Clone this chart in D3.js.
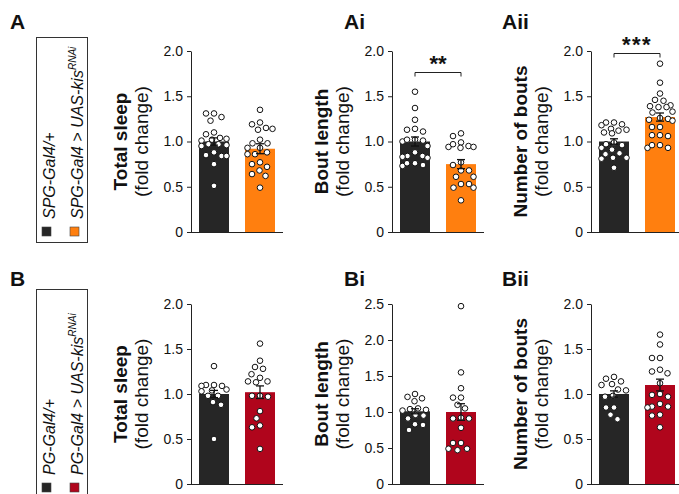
<!DOCTYPE html>
<html><head><meta charset="utf-8">
<script src="https://cdn.jsdelivr.net/npm/d3@7"></script>
<style>
body{margin:0;background:#fff}
svg{display:block}
text{font-family:"Liberation Sans",Arial,sans-serif;fill:#111}
</style>
</head><body>
<script>
// ---------- data ----------
const groupsA = ["SPG-Gal4/+", "SPG-Gal4 > UAS-kis"];
const groupsB = ["PG-Gal4/+", "PG-Gal4 > UAS-kis"];
const superscript = "RNAi";
const measures = ["Total sleep", "Bout length", "Number of bouts"];
const subtitle = "(fold change)";
const panelLabels = ["A", "Ai", "Aii", "B", "Bi", "Bii"];
const ticks2 = [0, 0.5, 1.0, 1.5, 2.0];
const ticks25 = [0, 0.5, 1.0, 1.5, 2.0, 2.5];

// Row A (SPG)
const aSleepCtrl = [1.31,1.27,1.23,1.31,1.08,1.10,1.03,1.02,1.01,1.04,0.97,0.96,0.95,0.97,0.88,0.84,0.85,0.84,0.75,0.51];
const aSleepKd   = [1.35,1.21,1.19,1.14,1.13,1.15,1.02,0.98,0.98,0.88,0.86,0.86,0.93,0.93,0.77,0.75,0.72,0.64,0.62,0.68,0.49];
const aBoutCtrl  = [1.55,1.37,1.24,1.13,1.11,1.14,1.02,1.01,1.00,1.02,0.95,0.88,0.84,0.83,0.84,0.82,0.76,0.74,0.73,0.76];
const aBoutKd    = [1.09,1.06,0.99,0.95,0.94,0.97,0.94,0.93,0.77,0.74,0.68,0.68,0.61,0.61,0.53,0.53,0.49,0.49,0.35];
const aNumCtrl   = [1.21,1.21,1.18,1.19,1.14,1.13,1.12,1.10,1.09,0.99,0.97,0.96,0.93,0.91,0.87,0.86,0.82,0.82,0.81,0.71];
const aNumKd     = [1.86,1.65,1.53,1.46,1.45,1.40,1.38,1.39,1.38,1.33,1.32,1.25,1.24,1.26,1.23,1.16,1.16,1.07,1.06,1.07,0.96,0.93,0.93,0.96];
const meansA = [[1.00, 0.92], [1.00, 0.75], [1.00, 1.27]];
const semA   = [[0.04, 0.055], [0.05, 0.05], [0.03, 0.045]];

// Row B (PG)
const bSleepCtrl = [1.31,1.09,1.10,1.10,1.09,1.05,1.04,1.03,0.98,0.98,0.91,0.88,0.50];
const bSleepKd   = [1.56,1.37,1.28,1.30,1.22,1.18,1.14,1.13,1.14,0.98,0.97,0.98,0.73,0.81,0.65,0.63,0.39];
const bBoutCtrl  = [1.25,1.19,1.15,1.21,1.04,1.03,1.02,1.05,0.96,0.91,0.95,0.83,0.82,0.75];
const bBoutKd    = [2.47,1.55,1.33,1.20,1.20,1.05,1.10,0.91,0.92,0.91,0.78,0.57,0.57,0.49,0.47,0.49];
const bNumCtrl   = [1.14,1.19,1.17,1.11,1.10,1.05,1.04,0.98,0.97,0.85,0.85,0.77,0.72];
const bNumKd     = [1.66,1.55,1.40,1.40,1.25,1.27,1.23,1.12,1.00,0.99,0.97,0.89,0.86,0.85,0.86,0.77,0.76,0.63];
const meansB = [[1.00, 1.02], [1.01, 1.00], [1.00, 1.10]];
const semB   = [[0.04, 0.07], [0.035, 0.115], [0.035, 0.065]];

// significance
const sigLabels = ["**", "***"];
const sigLevels = [1.77, 1.98];

const colCtrl = "#262626";
const colSPG = "#ff7f0f";
const colPG = "#b0051c";

// ---------- drawing ----------
const W = 679, H = 494;
const svg = d3.select("body").append("svg").attr("width", W).attr("height", H);

const colAxis = [191, 392, 591];
const rows = [
  {y0: 232, yTop: 51, letterY: 29, color: colSPG, groups: groupsA,
   data: [[aSleepCtrl, aSleepKd], [aBoutCtrl, aBoutKd], [aNumCtrl, aNumKd]],
   means: meansA, sem: semA, max: [2, 2, 2], ticks: [ticks2, ticks2, ticks2],
   legendY: 37, legendH: 205},
  {y0: 484, yTop: 304, letterY: 286, color: colPG, groups: groupsB,
   data: [[bSleepCtrl, bSleepKd], [bBoutCtrl, bBoutKd], [bNumCtrl, bNumKd]],
   means: meansB, sem: semB, max: [2, 2.5, 2], ticks: [ticks2, ticks25, ticks2],
   legendY: 289, legendH: 215}
];
const letterX = [10, 344, 502];

function swarm(values, y, cx, minD, maxOff) {
  const placed = [];
  const res = new Array(values.length);
  const order = values.map((v, i) => i).sort((a, b) => values[b] - values[a]);
  order.forEach(i => {
    const py = y(values[i]);
    let bestX = cx, bestCost = Infinity;
    const steps = Math.floor(maxOff / 0.5);
    for (let s = 0; s <= steps * 2; s++) {
      const off = (s % 2 === 0 ? 1 : -1) * Math.ceil(s / 2) * 0.5;
      let overlap = 0;
      for (const p of placed) {
        const d = Math.hypot(p.x - (cx + off), p.y - py);
        if (d < minD) overlap += (minD - d);
      }
      const cost = overlap * 100 + Math.abs(off) * 0.01;
      if (cost < bestCost) { bestCost = cost; bestX = cx + off; }
      if (overlap === 0) break;
    }
    placed.push({x: bestX, y: py});
    res[i] = {x: bestX, y: py};
  });
  return res;
}

rows.forEach((row, ri) => {
  // legend
  const lg = svg.append("g");
  lg.append("rect").attr("x", 36.5).attr("y", row.legendY + 0.5).attr("width", 51).attr("height", row.legendH)
    .attr("fill", "none").attr("stroke", "#333").attr("stroke-width", 1);
  const swY = row.legendY + row.legendH - 15 - (ri === 1 ? 6 : 0);
  const lineX = [55, 83];
  [colCtrl, row.color].forEach((c, gi) => {
    lg.append("rect").attr("x", lineX[gi] - 13).attr("y", swY).attr("width", 9).attr("height", 9)
      .attr("fill", c).attr("stroke", "#444").attr("stroke-width", 0.6);
    const t = lg.append("text")
      .attr("transform", `translate(${lineX[gi]},${swY - 8}) rotate(-90)`)
      .attr("font-size", 16).attr("font-style", "italic");
    t.append("tspan").text(row.groups[gi]);
    if (gi === 1) t.append("tspan").attr("font-size", 10).attr("dy", -7).text(superscript);
  });

  row.data.forEach((pair, ci) => {
    const ax = colAxis[ci];
    const g = svg.append("g");
    const y = d3.scaleLinear().domain([0, row.max[ci]]).range([row.y0, row.yTop]);
    const x = d3.scaleBand().domain([0, 1]).range([ax, ax + 92]).paddingInner(0.348).paddingOuter(0.174);

    // panel letter
    svg.append("text").attr("x", letterX[ci]).attr("y", row.letterY)
      .attr("font-size", 21).attr("font-weight", "bold").text(panelLabels[ri * 3 + ci]);

    // axis titles
    const mid = (row.y0 + row.yTop) / 2;
    svg.append("text").attr("transform", `translate(${ax - 64},${mid}) rotate(-90)`)
      .attr("text-anchor", "middle").attr("font-size", 19).attr("font-weight", "bold").text(measures[ci]);
    svg.append("text").attr("transform", `translate(${ax - 43},${mid}) rotate(-90)`)
      .attr("text-anchor", "middle").attr("font-size", 19).text(subtitle);

    // bars
    pair.forEach((vals, gi) => {
      const m = row.means[ci][gi];
      g.append("rect").attr("x", x(gi)).attr("width", x.bandwidth())
        .attr("y", y(m)).attr("height", y(0) - y(m))
        .attr("fill", gi === 0 ? colCtrl : row.color);
    });
    // points
    pair.forEach((vals, gi) => {
      const cx = x(gi) + x.bandwidth() / 2;
      const pts = swarm(vals, y, cx, 8, 12.5);
      g.selectAll(null).data(pts).enter().append("circle")
        .attr("cx", d => d.x).attr("cy", d => d.y).attr("r", 2.8)
        .attr("fill", "#fff").attr("stroke", "#111").attr("stroke-width", 1);
    });
    // error bars
    pair.forEach((vals, gi) => {
      const m = row.means[ci][gi], s = row.sem[ci][gi];
      const cx = x(gi) + x.bandwidth() / 2;
      g.append("line").attr("x1", cx).attr("x2", cx).attr("y1", y(m - s)).attr("y2", y(m + s))
        .attr("stroke", "#111").attr("stroke-width", 1.3);
      [m - s, m + s].forEach(v => g.append("line").attr("x1", cx - 4).attr("x2", cx + 4)
        .attr("y1", y(v)).attr("y2", y(v)).attr("stroke", "#111").attr("stroke-width", 1.3));
    });

    // axes
    const yAxis = d3.axisLeft(y).tickValues(row.ticks[ci]).tickSize(4).tickSizeOuter(0)
      .tickFormat(d => d === 0 ? "0" : d3.format(".1f")(d));
    const ya = svg.append("g").attr("transform", `translate(${ax},0)`).call(yAxis);
    ya.selectAll("text").attr("font-size", 14).attr("font-family", "Liberation Sans, Arial, sans-serif").attr("fill", "#111").attr("dx", "-1");
    ya.selectAll("path,line").attr("stroke", "#222");
    svg.append("line").attr("x1", ax).attr("x2", ax + 92).attr("y1", row.y0 + 0.5).attr("y2", row.y0 + 0.5)
      .attr("stroke", "#222").attr("stroke-width", 1);

    // significance
    if (ri === 0 && ci > 0) {
      const lv = sigLevels[ci - 1];
      const x1 = x(0) + x.bandwidth() / 2, x2 = x(1) + x.bandwidth() / 2;
      const yy = Math.round(y(lv)) + 0.5;
      svg.append("path").attr("d", `M${x1},${yy + 4}V${yy}H${x2}V${yy + 4}`)
        .attr("fill", "none").attr("stroke", "#222").attr("stroke-width", 1);
      svg.append("text").attr("x", (x1 + x2) / 2).attr("y", yy - 2).attr("text-anchor", "middle")
        .attr("font-size", 22).attr("font-weight", "bold").attr("letter-spacing", ci === 2 ? 1.5 : 0)
        .text(sigLabels[ci - 1]);
    }
  });
});
</script>
</body></html>
